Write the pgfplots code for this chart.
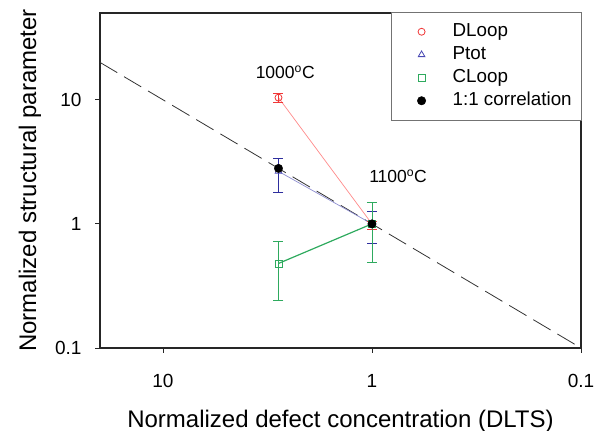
\documentclass[border=0pt]{standalone}
\usepackage{pgfplots}
\pgfplotsset{compat=1.18}
\usepackage{fontspec}
\setmainfont{Liberation Sans}
\definecolor{dred}{HTML}{F03838}
\definecolor{lred}{HTML}{FF8A8A}
\definecolor{dblue}{HTML}{2E2E9E}
\definecolor{tblue}{HTML}{4A4AB4}
\definecolor{lblue}{HTML}{8C8CD0}
\definecolor{dgreen}{HTML}{2EAA5E}
\pgfplotsset{mk/.style={only marks,
  legend image code/.code={\path[draw=none, fill=none] (0pt,-1pt) rectangle (51pt,1pt); \draw[##1] plot[only marks] coordinates {(26pt,0pt)};}}}
\begin{document}
\begin{tikzpicture}
\begin{axis}[
  name=ax,
  scale only axis, width=481pt, height=335pt,
  xmode=log, ymode=log, x dir=reverse,
  xmin=0.1, xmax=20, ymin=0.1, ymax=50,
  xtick={0.1,1,10}, xticklabels={0.1,1,10},
  ytick={0.1,1,10}, yticklabels={0.1,1,10},
  minor tick style={draw=none},
  tick align=outside, xtick pos=left, ytick pos=left,
  major tick length=5pt,
  tick style={black!85, line width=0.8pt},
  axis line style={line width=2pt, black!85},
  ticklabel style={font=\fontsize{19}{22}\selectfont},
  xticklabel style={yshift=-18pt},
  yticklabel style={xshift=-10pt},
  /pgf/number format/assume math mode=true,
  xlabel={Normalized defect concentration (DLTS)},
  ylabel={Normalized structural parameter},
  label style={font=\fontsize{24}{28}\selectfont},
  xlabel style={at={(axis description cs:0.5,-0.236)}, anchor=base},
  ylabel style={at={(axis description cs:-0.133,0.5)}, anchor=base},
  legend style={at={(1.002,1.003)}, anchor=north east, draw=black!55, line width=0.5pt,
    font=\fontsize{18.8}{21}\selectfont, inner xsep=4pt, inner ysep=8pt, row sep=0pt,
    nodes={inner xsep=6pt, inner ysep=2.75pt, text height=13.5pt, text depth=4pt}},
  legend cell align=left,
]
\addplot[forget plot, black!80, line width=0.8pt, dash pattern=on 20pt off 8pt] coordinates {(20,20) (0.1,0.1)};
\addplot[forget plot, lred, line width=0.7pt] coordinates {(2.8,10.4) (1,1)};
\addplot[forget plot, lblue, line width=0.7pt] coordinates {(2.8,2.65) (1,1)};
\addplot[forget plot, dgreen, line width=1.2pt] coordinates {(2.8,0.48) (1,1)};

\addplot[mk, dred, mark=o, mark size=3.5pt, mark options={solid, fill=white, line width=0.8pt},
  error bars/.cd, y dir=both, y explicit, error mark options={rotate=90, dred, mark size=5pt, line width=0.8pt},
  error bar style={dred, line width=0.8pt}]
  coordinates {(2.8,10.4) += (0,0.9) -= (0,0.8) (1,1) += (0,0.05) -= (0,0.1)};
\addlegendentry{DLoop}
\addplot[mk, tblue, mark=triangle, mark size=3.8pt, mark options={solid, fill=white, line width=0.8pt},
  error bars/.cd, y dir=both, y explicit, error mark options={rotate=90, dblue, mark size=5pt, line width=0.8pt},
  error bar style={dblue, line width=0.8pt}]
  coordinates {(2.8,2.65) += (0,0.69) -= (0,0.85) (1,1) += (0,0.27) -= (0,0.31)};
\addlegendentry{Ptot}
\addplot[mk, dgreen, mark=square, mark size=3.5pt, mark options={solid, fill=white, line width=0.8pt},
  error bars/.cd, y dir=both, y explicit, error mark options={rotate=90, dgreen, mark size=5pt, line width=0.8pt},
  error bar style={dgreen, line width=0.8pt}]
  coordinates {(2.8,0.48) += (0,0.24) -= (0,0.24) (1,1) += (0,0.48) -= (0,0.51)};
\addlegendentry{CLoop}
\addplot[mk, black, mark=*, mark size=4.2pt] coordinates {(2.8,2.8) (1,1)};
\addlegendentry{1:1 correlation}

\node[anchor=base, font=\fontsize{17.5}{20}\selectfont] at (axis cs:2.6,14.7) {1000\textsuperscript{o}C};
\node[anchor=base, font=\fontsize{17.5}{20}\selectfont] at (axis cs:0.75,2.15) {1100\textsuperscript{o}C};
\end{axis}
\pgfresetboundingbox
\path ([shift={(-100pt,-83pt)}]ax.south west) rectangle ([shift={(22pt,13pt)}]ax.north east);
\end{tikzpicture}
\end{document}
